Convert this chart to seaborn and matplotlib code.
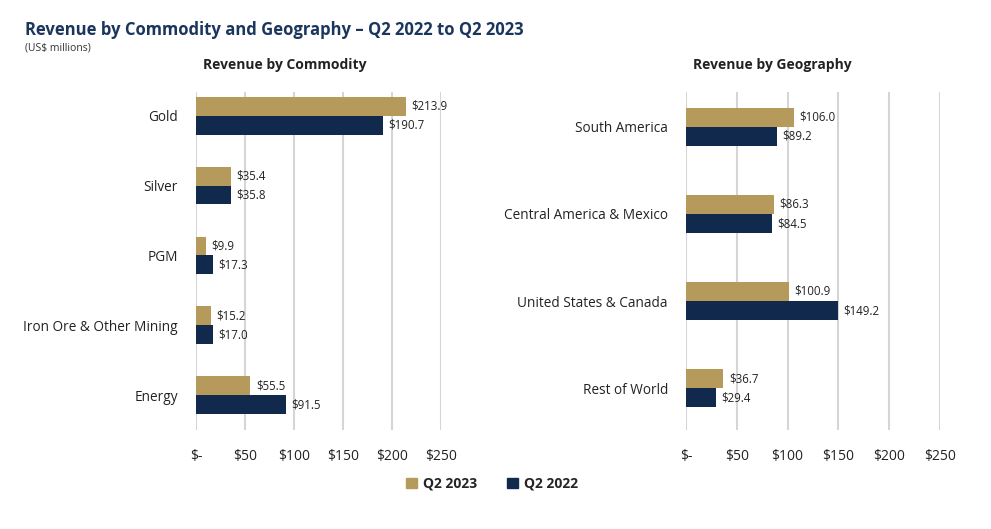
import matplotlib
matplotlib.use("Agg")
import matplotlib.pyplot as plt
import seaborn as sns
import pandas as pd
from matplotlib.patches import Patch

commodities = ["Gold", "Silver", "PGM", "Iron Ore & Other Mining", "Energy"]
comm_2023 = [213.9, 35.4, 9.9, 15.2, 55.5]
comm_2022 = [190.7, 35.8, 17.3, 17.0, 91.5]

regions = ["South America", "Central America & Mexico", "United States & Canada", "Rest of World"]
geo_2023 = [106.0, 86.3, 100.9, 36.7]
geo_2022 = [89.2, 84.5, 149.2, 29.4]

series = ["Q2 2023", "Q2 2022"]
xticks = [0, 50, 100, 150, 200, 250]
xticklabels = ["$-", "$50", "$100", "$150", "$200", "$250"]

GOLD = "#B59A5B"
NAVY = "#10294D"
TITLE_C = "#1B365D"

sns.set_theme(style="white")
plt.rcParams["font.family"] = ["Open Sans", "DejaVu Sans"]

fig = plt.figure(figsize=(9.91, 5.29), dpi=100)
W, H = 991, 529

def mkax(x0, x1, y0, y1):
    return fig.add_axes([x0 / W, 1 - y1 / H, (x1 - x0) / W, (y1 - y0) / H])

ax1 = mkax(196, 441, 92, 430)
ax2 = mkax(686, 940, 92, 430)

def draw(ax, cats, v23, v22, width, ylim):
    df = pd.DataFrame({
        "cat": cats * 2,
        "val": v23 + v22,
        "series": [series[0]] * len(cats) + [series[1]] * len(cats),
    })
    sns.barplot(data=df, y="cat", x="val", hue="series", order=cats,
                hue_order=series, palette=[GOLD, NAVY], width=width,
                saturation=1, ax=ax, legend=False, orient="h", linewidth=0,
                gap=0)
    for c in ax.containers:
        ax.bar_label(c, labels=[f"${v:.1f}" for v in c.datavalues],
                     padding=4, fontsize=8.3, color="#222222")
    ax.set_xlim(0, 250)
    ax.set_ylim(*ylim)
    ax.set_xticks(xticks)
    ax.set_xticklabels(xticklabels, fontsize=10, color="#222222")
    ax.tick_params(axis="x", length=0, pad=14)
    ax.tick_params(axis="y", length=0, pad=13, labelsize=9.8, labelcolor="#222222")
    ax.xaxis.grid(True, color="#D5D5D5", linewidth=1.5)
    ax.set_axisbelow(True)
    for s in ax.spines.values():
        s.set_visible(False)
    ax.set_xlabel("")
    ax.set_ylabel("")

draw(ax1, commodities, comm_2023, comm_2022, 0.54, (4.5, -0.34))
draw(ax2, regions, geo_2023, geo_2022, 0.44, (3.48, -0.4))

fig.text(25 / W, 1 - 30 / H, "Revenue by Commodity and Geography – Q2 2022 to Q2 2023",
         fontsize=12, fontweight="bold", color=TITLE_C, va="center", ha="left")
fig.text(25 / W, 1 - 48 / H, "(US$ millions)", fontsize=7.5, color="#333333",
         va="center", ha="left")
fig.text(285 / W, 1 - 65 / H, "Revenue by Commodity", fontsize=10,
         fontweight="bold", color="#222222", va="center", ha="center")
fig.text(772 / W, 1 - 65 / H, "Revenue by Geography", fontsize=10,
         fontweight="bold", color="#222222", va="center", ha="center")

handles = [Patch(color=GOLD, label=series[0]), Patch(color=NAVY, label=series[1])]
fig.legend(handles=handles, loc="center", bbox_to_anchor=(492 / W, 1 - 484 / H),
           ncol=2, frameon=False, handlelength=0.8, handleheight=0.8,
           handletextpad=0.4, columnspacing=2.2,
           prop={"weight": "bold", "size": 10})

fig.savefig("out.png", dpi=100)
